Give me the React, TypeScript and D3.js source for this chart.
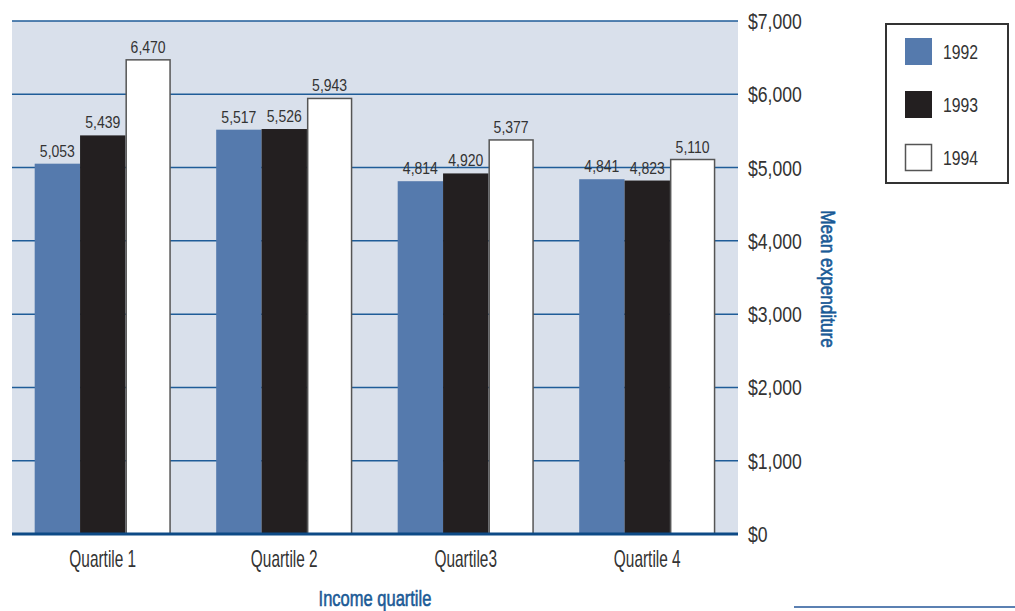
import React from "react";
import * as d3 from "d3";

const categories = ["Quartile 1", "Quartile 2", "Quartile3", "Quartile 4"];
const seriesNames = ["1992", "1993", "1994"];
const values1992 = [5053, 5517, 4814, 4841];
const values1993 = [5439, 5526, 4920, 4823];
const values1994 = [6470, 5943, 5377, 5110];
const yTicks = [0, 1000, 2000, 3000, 4000, 5000, 6000, 7000];

const seriesValues = [values1992, values1993, values1994];
const fills = ["#557aad", "#231f20", "#ffffff"];
const strokes = ["none", "none", "#555555"];

const W = 1015;
const H = 611;
const plot = { left: 12, right: 738, top: 21, bottom: 534 };
const FONT = "'Liberation Sans', Arial, sans-serif";

type CTextProps = {
  x: number;
  y: number;
  sx: number;
  size: number;
  anchor?: "start" | "middle" | "end";
  fill?: string;
  outline?: number;
  rotate?: number;
  children: React.ReactNode;
};

function CText({ x, y, sx, size, anchor = "start", fill = "#333333", outline = 0, rotate = 0, children }: CTextProps) {
  return (
    <text
      transform={`translate(${x},${y}) rotate(${rotate}) scale(${sx},1)`}
      textAnchor={anchor}
      fontSize={size}
      fill={fill}
      stroke={outline > 0 ? fill : "none"}
      strokeWidth={outline}
    >
      {children}
    </text>
  );
}

export default function App() {
  const x0 = d3
    .scaleBand<string>()
    .domain(categories)
    .range([plot.left, plot.right])
    .paddingInner(0.25)
    .paddingOuter(0.125);
  const x1 = d3
    .scaleBand<string>()
    .domain(seriesNames)
    .range([0, x0.bandwidth()])
    .padding(0);
  const y = d3.scaleLinear().domain([0, 7000]).range([plot.bottom, plot.top]);
  const fmt = d3.format(",");

  return (
    <svg
      width={W}
      height={H}
      style={{ position: "absolute", left: 0, top: 0, display: "block" }}
      fontFamily={FONT}
    >
      <rect x={0} y={0} width={W} height={H} fill="#ffffff" />
      <rect
        x={plot.left}
        y={plot.top}
        width={plot.right - plot.left}
        height={plot.bottom - plot.top}
        fill="#d9e0eb"
      />
      {yTicks
        .filter((t) => t > 0)
        .map((t) => (
          <line
            key={t}
            x1={plot.left}
            x2={plot.right}
            y1={y(t)}
            y2={y(t)}
            stroke="#1f5c98"
            strokeWidth={1.5}
          />
        ))}
      {categories.map((c, ci) => (
        <g key={c} transform={`translate(${x0(c)},0)`}>
          {seriesNames.map((s, si) => {
            const v = seriesValues[si][ci];
            const bx = x1(s)!;
            const bw = x1.bandwidth();
            const isWhite = si === 2;
            return (
              <g key={s}>
                <rect
                  x={isWhite ? bx + 0.75 : bx}
                  y={y(v)}
                  width={isWhite ? bw - 1.5 : bw}
                  height={plot.bottom - y(v)}
                  fill={fills[si]}
                  stroke={strokes[si]}
                  strokeWidth={isWhite ? 1.5 : 0}
                />
                <CText x={bx + bw / 2} y={y(v) - 7} sx={0.86} size={16.3} anchor="middle">
                  {fmt(v)}
                </CText>
              </g>
            );
          })}
        </g>
      ))}
      <line
        x1={plot.left}
        x2={plot.right}
        y1={plot.bottom}
        y2={plot.bottom}
        stroke="#0d4a86"
        strokeWidth={3}
      />
      {yTicks.map((t) => (
        <CText key={t} x={748} y={y(t) + 8} sx={0.8} size={22}>
          {"$" + fmt(t)}
        </CText>
      ))}
      {categories.map((c) => (
        <CText
          key={c}
          x={x0(c)! + x0.bandwidth() / 2}
          y={567}
          sx={0.67}
          size={23}
          anchor="middle"
        >
          {c}
        </CText>
      ))}
      <CText x={375} y={605.5} sx={0.75} size={22} anchor="middle" fill="#1a5a96" outline={0.6}>
        Income quartile
      </CText>
      <CText x={821} y={279} sx={0.86} size={20} anchor="middle" fill="#1a5a96" outline={0.6} rotate={90}>
        Mean expenditure
      </CText>
      <rect x={886} y={24} width={122} height={159} fill="#ffffff" stroke="#333333" strokeWidth={2} />
      {seriesNames.map((s, si) => {
        const ly = 38 + si * 53;
        return (
          <g key={s}>
            <rect
              x={si === 2 ? 905.5 : 905}
              y={si === 2 ? ly + 0.5 : ly}
              width={si === 2 ? 26 : 27}
              height={si === 2 ? 26 : 27}
              fill={fills[si]}
              stroke={si === 2 ? "#555555" : "none"}
              strokeWidth={1.5}
            />
            <CText x={943} y={ly + 20.5} sx={0.75} size={21}>
              {s}
            </CText>
          </g>
        );
      })}
      <line x1={794} x2={1015} y1={607} y2={607} stroke="#5b80b2" strokeWidth={2} />
    </svg>
  );
}
